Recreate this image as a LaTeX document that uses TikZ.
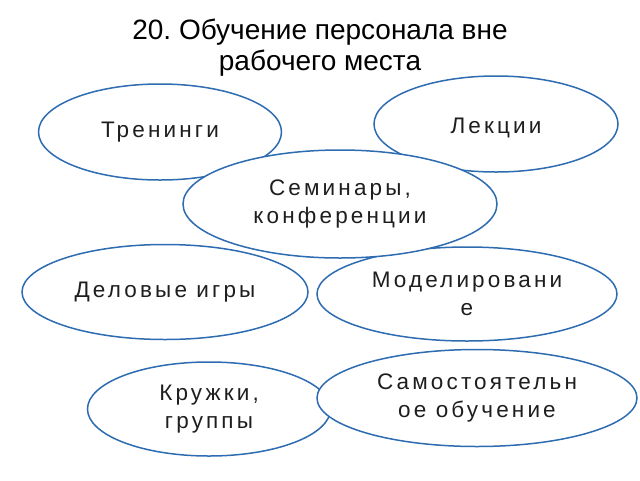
\documentclass[tikz,border=0pt]{standalone}
\usepackage{fontspec}
\setmainfont{Liberation Sans}
\newfontfamily\nodefont[LetterSpace=14]{Liberation Sans}
\usetikzlibrary{shapes.geometric}
\definecolor{rimblue}{HTML}{2E6CB2}
\definecolor{inktext}{HTML}{1E1E1E}
\frenchspacing
\tikzset{
  oval/.style={ellipse, draw=rimblue, line width=1.5pt, fill=white, inner sep=0pt,
    align=center, text=inktext, font=\nodefont\fontsize{22.5}{28}\selectfont},
  titletext/.style={align=center, font=\fontsize{28}{31}\selectfont, text=black, inner sep=0pt}
}
\begin{document}
\begin{tikzpicture}[x=1pt,y=-1pt]
\useasboundingbox[fill=white] (0,0) rectangle (640,480);
\node[titletext] (title) at (320,48) {20. Обучение персонала вне\\рабочего места};
\node[oval, minimum width=243pt, minimum height=96pt] (tren) at (160,132) {Тренинги};
\node[oval, minimum width=244pt, minimum height=96pt, text height=23pt] (lek) at (496,124) {Лекции};
\node[oval, minimum width=286pt, minimum height=95pt] (del) at (165,292) {Деловые игры};
\node[oval, minimum width=300pt, minimum height=94pt] (mod) at (467,294) {Моделировани\\е};
\node[oval, minimum width=314pt, minimum height=108pt] (sem) at (340,204) {Семинары,\\конференции};
\node[oval, minimum width=243pt, minimum height=94pt] (kru) at (209,409) {Кружки,\\группы};
\node[oval, minimum width=320pt, minimum height=97pt] (sam) at (477,398) {Самостоятельн\\ое обучение};
\end{tikzpicture}
\end{document}
